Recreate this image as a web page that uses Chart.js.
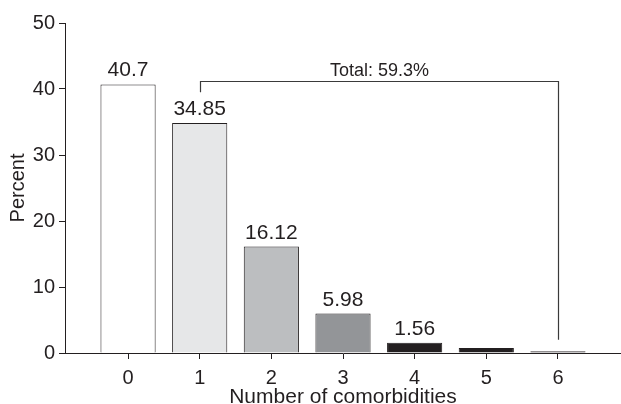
<!DOCTYPE html>
<html>
<head>
<meta charset="utf-8">
<script src="https://cdn.jsdelivr.net/npm/chart.js@4/dist/chart.umd.min.js"></script>
<style>
  html, body { margin: 0; padding: 0; background: #fff; }
  #wrap { width: 621px; height: 404px; }
</style>
</head>
<body>
<div id="wrap"><canvas id="chart"></canvas></div>
<script>
const categories = [0, 1, 2, 3, 4, 5, 6];
const percents = [40.7, 34.85, 16.12, 5.98, 1.56, 0.75, 0.28];
const valueLabels = ['40.7', '34.85', '16.12', '5.98', '1.56', '', ''];
const barColors = ['#ffffff', '#e6e7e8', '#bcbec0', '#939598', '#231f20', '#231f20', '#231f20'];
const yTicks = [0, 10, 20, 30, 40, 50];
const totalText = 'Total: 59.3%';

const ink = '#231f20';
const FONT = 'Liberation Sans, Arial, Helvetica, sans-serif';

// labels above bars + the "Total" bracket
const annotate = {
  id: 'annotate',
  afterDatasetsDraw(chart) {
    const { ctx, scales: { x, y } } = chart;
    ctx.save();
    ctx.fillStyle = ink;
    ctx.font = '21px ' + FONT;
    ctx.textAlign = 'center';
    ctx.textBaseline = 'alphabetic';
    percents.forEach((v, i) => {
      if (!valueLabels[i]) return;
      ctx.fillText(valueLabels[i], x.getPixelForValue(categories[i]), y.getPixelForValue(v) - 8);
    });

    // bracket from bar 1 to bar 6
    const x1 = Math.round(x.getPixelForValue(1)) + 0.5;
    const x6 = Math.round(x.getPixelForValue(6)) + 0.5;
    const yTop = Math.round(y.getPixelForValue(41.2)) + 0.5;
    ctx.strokeStyle = '#3a3a3a';
    ctx.lineWidth = 1.2;
    ctx.beginPath();
    ctx.moveTo(x1, y.getPixelForValue(39.5));
    ctx.lineTo(x1, yTop);
    ctx.lineTo(x6, yTop);
    ctx.lineTo(x6, y.getPixelForValue(2));
    ctx.stroke();

    ctx.font = '18px ' + FONT;
    ctx.fillText(totalText, (x1 + x6) / 2, yTop - 6);
    ctx.restore();
  }
};

const ctx = document.getElementById('chart').getContext('2d');

new Chart(ctx, {
  type: 'bar',
  data: {
    datasets: [{
      data: categories.map((c, i) => ({ x: c, y: percents[i] })),
      backgroundColor: barColors,
      borderColor: ink,
      borderWidth: 1,
      barPercentage: 0.77,
      categoryPercentage: 1
    }]
  },
  options: {
    responsive: true,
    maintainAspectRatio: false,
    animation: false,
    layout: { padding: { top: 23, right: 0, left: 7, bottom: 0 } },
    plugins: {
      legend: { display: false },
      tooltip: { enabled: false }
    },
    scales: {
      x: {
        type: 'linear',
        min: -0.88,
        max: 6.88,
        offset: false,
        afterBuildTicks: (scale) => {
          scale.ticks = categories.map(v => ({ value: v }));
        },
        afterFit: (scale) => { scale.height = 51; },
        grid: { display: true, offset: false, drawOnChartArea: false, drawTicks: true, tickLength: 6, color: ink },
        border: { display: true, color: ink, width: 1 },
        ticks: { color: ink, font: { family: FONT, size: 20 }, padding: 7, maxRotation: 0 },
        title: {
          display: true,
          text: 'Number of comorbidities',
          color: ink,
          font: { family: FONT, size: 21, lineHeight: 1 },
          padding: { top: 0, bottom: -4 }
        }
      },
      y: {
        min: 0,
        max: 50,
        afterBuildTicks: (scale) => {
          scale.ticks = yTicks.map(v => ({ value: v }));
        },
        afterFit: (scale) => { scale.width = 58; },
        grid: { display: true, drawOnChartArea: false, drawTicks: true, tickLength: 6, color: ink },
        border: { display: true, color: ink, width: 1 },
        ticks: { color: ink, font: { family: FONT, size: 20 }, padding: 4 },
        title: {
          display: true,
          text: 'Percent',
          color: ink,
          font: { family: FONT, size: 20, lineHeight: 1 },
          padding: { top: 1, bottom: 0 }
        }
      }
    }
  },
  plugins: [annotate]
});
</script>
</body>
</html>
